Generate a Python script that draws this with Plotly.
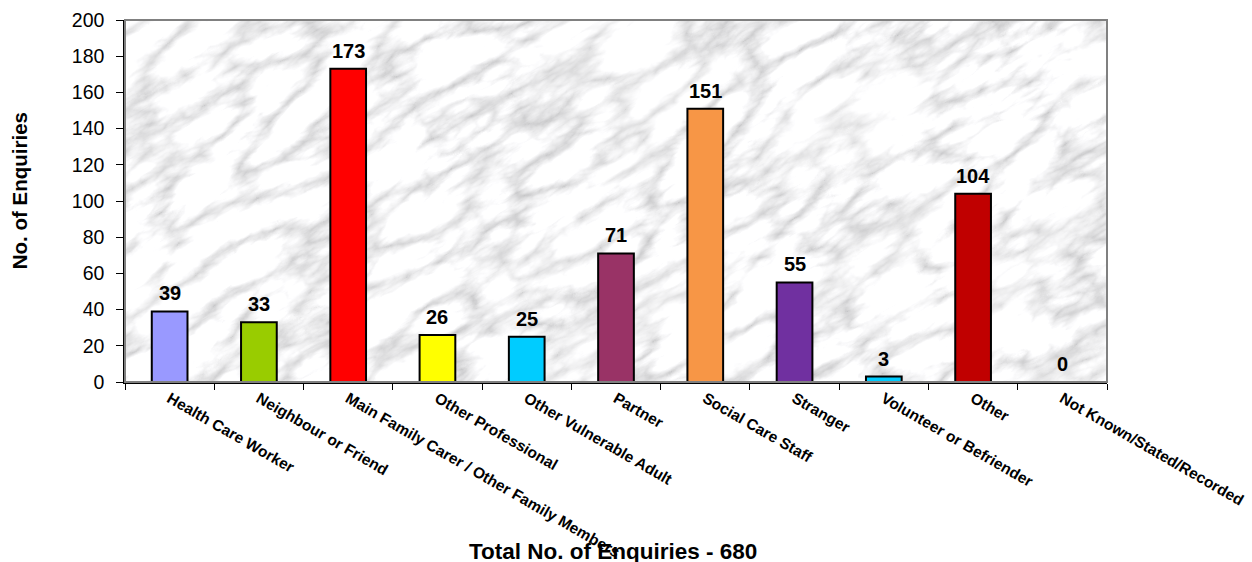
import base64
import plotly.graph_objects as go

categories = ["Health Care Worker", "Neighbour or Friend", "Main Family Carer / Other Family Members",
              "Other Professional", "Other Vulnerable Adult", "Partner", "Social Care Staff",
              "Stranger", "Volunteer or Befriender", "Other", "Not Known/Stated/Recorded"]
values = [39, 33, 173, 26, 25, 71, 151, 55, 3, 104, 0]
bar_colors = ["#9999FF", "#99CC00", "#FF0000", "#FFFF00", "#00CCFF", "#993366",
              "#F79646", "#7030A0", "#00CCFF", "#C00000", "#FF9900"]
y_ticks = list(range(0, 201, 20))
total_text = "Total No. of Enquiries - 680"
y_title = "No. of Enquiries"

W, H = 1252, 562
L, R, T, B = 125, 145, 20, 180
PW, PH = W - L - R, H - T - B

# marble-like texture as an SVG filter (decorative background only)
svg = f'''<svg xmlns="http://www.w3.org/2000/svg" width="{PW}" height="{PH}" viewBox="0 0 {PW} {PH}">
<defs>
<filter id="m" x="0" y="0" width="100%" height="100%">
<feTurbulence type="turbulence" baseFrequency="0.011 0.028" numOctaves="5" seed="11"/>
<feColorMatrix type="matrix" values="1.2 0 0 0 0.55  1.2 0 0 0 0.55  1.2 0 0 0 0.56  0 0 0 0 1"/>
</filter>
<filter id="n" x="0" y="0" width="100%" height="100%">
<feTurbulence type="fractalNoise" baseFrequency="0.006 0.015" numOctaves="3" seed="4"/>
<feColorMatrix type="matrix" values="0 0 0 0 1  0 0 0 0 1  0 0 0 0 1  0.9 0 0 0 -0.35"/>
</filter>
</defs>
<rect width="{PW}" height="{PH}" fill="#d8d8d8"/>
<g transform="rotate(-30 {PW/2} {PH/2})">
<rect x="{-PW}" y="{-PH*2}" width="{PW*3}" height="{PH*5}" filter="url(#m)"/>
<rect x="{-PW}" y="{-PH*2}" width="{PW*3}" height="{PH*5}" filter="url(#n)"/>
</g>
</svg>'''
img_src = "data:image/svg+xml;base64," + base64.b64encode(svg.encode()).decode()

fig = go.Figure()
fig.add_trace(go.Bar(
    x=categories, y=values, width=0.4,
    marker=dict(color=bar_colors, line=dict(color="black", width=2)),
    hoverinfo="x+y",
))

for c, v in zip(categories, values):
    fig.add_annotation(x=c, y=v, xref="x", yref="y", text=f"<b>{v}</b>", showarrow=False,
                       yanchor="bottom", yshift=5,
                       font=dict(family="Liberation Sans, Arial", size=20, color="black"))

fig.add_annotation(x=0, y=0.527, xref="paper", yref="paper", xanchor="center", yanchor="middle",
                   xshift=-106, text=f"<b>{y_title}</b>", textangle=-90, showarrow=False,
                   font=dict(family="Liberation Sans, Arial", size=20.5, color="black"))
fig.add_annotation(x=0.497, y=0, xref="paper", yref="paper", xanchor="center", yanchor="middle",
                   yshift=-169, text=f"<b>{total_text}</b>", showarrow=False,
                   font=dict(family="Liberation Sans, Arial", size=22.5, color="black"))

fig.add_layout_image(dict(source=img_src, xref="paper", yref="paper", x=0, y=1,
                          sizex=1, sizey=1, xanchor="left", yanchor="top",
                          sizing="stretch", layer="below"))

fig.add_shape(type="rect", xref="paper", yref="paper", x0=0, y0=0, x1=1, y1=1,
              line=dict(color="#808080", width=2), layer="above")

fig.update_layout(
    width=W, height=H,
    margin=dict(l=L, r=R, t=T, b=B, autoexpand=False),
    paper_bgcolor="white", plot_bgcolor="#d8d8d8",
    showlegend=False,
    font=dict(family="Liberation Sans, Arial", color="black"),
)
fig.update_xaxes(
    type="category", tickson="boundaries", ticks="outside", ticklen=6, tickcolor="black",
    tickwidth=1, showline=True, linecolor="black", linewidth=1.5,
    tickangle=30, tickfont=dict(size=15.5, family="Liberation Sans, Arial", color="black"),
    tickvals=categories, ticktext=[f"<b>{c}</b>" for c in categories],
    showgrid=False, automargin=False,
)
fig.update_yaxes(
    range=[0, 200], tickvals=y_ticks, ticks="outside", ticklen=7, tickcolor="black",
    showline=True, linecolor="black", linewidth=1.5, showgrid=False, zeroline=False,
    tickfont=dict(size=19.5, family="Liberation Sans, Arial", color="black"),
    ticklabelstandoff=8, automargin=False,
)

fig.write_html("out.html", config={"displayModeBar": False},
               post_script="document.body.style.margin='0';document.body.style.overflow='hidden';")
